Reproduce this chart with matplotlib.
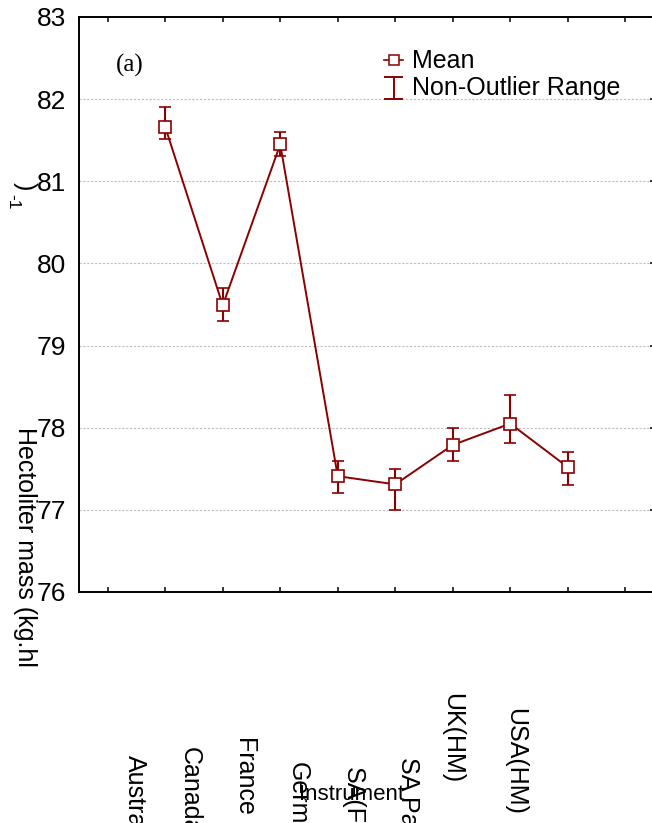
import matplotlib
matplotlib.use("Agg")
import matplotlib.pyplot as plt
from matplotlib.lines import Line2D
import numpy as np

# ---------------- data ----------------
categories = ["Australia", "Canada", "France", "Germany", "SA(FGIS)", "SA Panel", "UK(HM)", "USA(HM)"]
means = [81.66, 79.49, 81.45, 77.41, 77.31, 77.79, 78.05, 77.52]
range_low = [81.51, 79.30, 81.31, 77.20, 77.00, 77.60, 77.81, 77.30]
range_high = [81.91, 79.70, 81.60, 77.60, 77.50, 78.00, 78.40, 77.70]
y_ticks = [76, 77, 78, 79, 80, 81, 82, 83]

# ---------------- layout ----------------
W, H = 652, 823
DPI = 100
RED = "#8B0000"
FS = 18
plt.rcParams["font.family"] = ["Liberation Sans", "DejaVu Sans"]

fig = plt.figure(figsize=(W / DPI, H / DPI), dpi=DPI)
ax_left, ax_top, ax_right, ax_bottom = 79, 17, 654, 592
ax = fig.add_axes([ax_left / W, 1 - ax_bottom / H, (ax_right - ax_left) / W, (ax_bottom - ax_top) / H])

x = np.arange(1, len(categories) + 1)
m = np.array(means)
lo = m - np.array(range_low)
hi = np.array(range_high) - m

ax.errorbar(x, m, yerr=[lo, hi], fmt="-s", color=RED, lw=1.4, ms=8,
            mfc="white", mec=RED, mew=1.2, capsize=4.2, capthick=1.5,
            elinewidth=1.5, zorder=3)

ax.set_xlim(-0.5, len(categories) + 1.5)
ax.set_ylim(76, 83)
ax.set_yticks(y_ticks)
ax.set_xticks(np.arange(0, len(categories) + 2))
ax.set_xticklabels([])
ax.tick_params(axis="x", direction="in", top=True, bottom=True, length=3.8, width=1.1,
               labelbottom=False)
ax.tick_params(axis="y", direction="in", left=False, right=True, length=3, width=1.1,
               labelsize=19, pad=9.5)
for s in ax.spines.values():
    s.set_linewidth(1.4)

for yv in y_ticks[1:-1]:
    ax.axhline(yv, color="#bdbdbd", lw=0.8, ls=(0, (2, 1.5)), zorder=1)

def fx(px):
    return px / W

def fy(py):
    return 1 - py / H

# x category labels (rotated, partly clipped at bottom as in reference)
label_pos = [(134.5, 755), (190, 747), (244, 738), (298, 762), (353, 767), (408, 757), (452.5, 693), (515, 708)]
for lab, (px, py) in zip(categories, label_pos):
    fig.text(fx(px), fy(py), lab, rotation=270, ha="center", va="top", fontsize=FS)

fig.text(fx(352), fy(794), "Instrument", ha="center", va="center", fontsize=16)

# y label (as rendered in reference)
fig.text(fx(25), fy(427), "Hectoliter mass (kg.hl", rotation=270, ha="center", va="top", fontsize=FS)
fig.text(fx(25), fy(186), ")", rotation=270, ha="center", va="center", fontsize=FS)
fig.text(fx(13), fy(202), "-1", rotation=270, ha="center", va="center", fontsize=12.5)

# panel tag
fig.text(fx(130), fy(65), "(a)", ha="center", va="center", fontsize=18,
         family=["Liberation Serif", "DejaVu Serif"])

# manual legend
ltr = fig.transFigure
fig.add_artist(Line2D([fx(384), fx(403)], [fy(60), fy(60)], color=RED, lw=1.2, transform=ltr))
fig.add_artist(Line2D([fx(393.5)], [fy(60)], marker="s", ms=7, mfc="white", mec=RED, mew=1.1,
                      color=RED, transform=ltr))
fig.add_artist(Line2D([fx(393.5), fx(393.5)], [fy(77), fy(99)], color=RED, lw=1.4, transform=ltr))
fig.add_artist(Line2D([fx(385), fx(402)], [fy(77), fy(77)], color=RED, lw=1.4, transform=ltr))
fig.add_artist(Line2D([fx(385), fx(402)], [fy(99), fy(99)], color=RED, lw=1.4, transform=ltr))
fig.text(fx(412), fy(60.5), "Mean", ha="left", va="center", fontsize=FS)
fig.text(fx(412), fy(88.5), "Non-Outlier Range", ha="left", va="center", fontsize=FS)

fig.savefig("out.png", dpi=DPI)
